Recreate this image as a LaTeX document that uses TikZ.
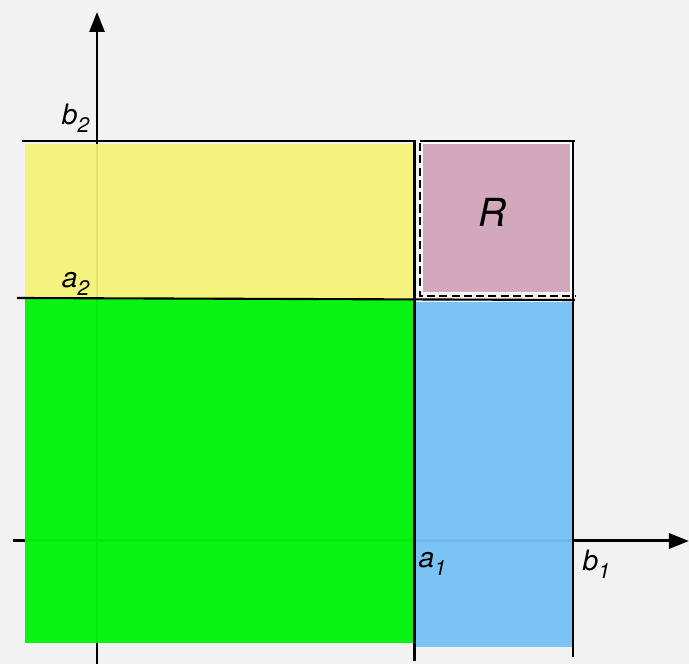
\documentclass[tikz,border=0pt]{standalone}
\usepackage{fontspec}
\setmainfont{TeX Gyre Heros}
\usetikzlibrary{arrows.meta}
\definecolor{bggrey}{RGB}{242,242,242}
\definecolor{rgreen}{RGB}{0,245,10}
\definecolor{ryellow}{RGB}{247,242,117}
\definecolor{rblue}{RGB}{116,193,245}
\definecolor{rpurple}{RGB}{211,168,188}
\newcommand{\sub}[1]{\raisebox{-2.3pt}{\fontsize{6}{7}\selectfont #1}}

\begin{document}
\begin{tikzpicture}[
  axis/.style={line width=0.85pt,-{Triangle[length=2mm,width=1.5mm]}},
  edge/.style={line width=0.6pt},
  lab/.style={font=\fontsize{8}{9}\selectfont\itshape,inner sep=0pt}]
\fill[bggrey] (-0.97,-1.23) rectangle (5.92,5.41);
\useasboundingbox (-0.97,-1.23) rectangle (5.92,5.41);
% axes
\coordinate (xl) at (-0.84,0);
\coordinate (xr) at (5.92,0);
\coordinate (yb) at (0,-1.23);
\coordinate (yt) at (0,5.29);
\draw[axis] (xl) -- (xr);
\draw[axis] (yb) -- (yt);
% regions
\fill[rgreen,opacity=0.96] (-0.72,-1.02) rectangle (3.19,2.42);
\fill[ryellow,opacity=0.92] (-0.72,2.43) rectangle (3.17,3.97);
\fill[rblue,opacity=0.95] (3.18,-1.06) rectangle (4.75,2.39);
\fill[white] (3.245,2.475) rectangle (4.75,3.99);
\fill[rpurple] (3.26,2.49) rectangle (4.73,3.97);
\node[lab,font=\fontsize{11}{12}\selectfont\itshape] (R) at (3.95,3.29) {R};
% bounds
\coordinate (b2l) at (-0.75,4.0);
\coordinate (b2m) at (3.175,4.0);
\coordinate (a1b) at (3.175,-1.20);
\coordinate (b2r) at (3.23,4.0);
\coordinate (b2e) at (4.78,4.0);
\coordinate (b1t) at (4.76,4.0);
\coordinate (b1b) at (4.76,-1.16);
\coordinate (a2l) at (-0.80,2.43);
\coordinate (a2r) at (4.78,2.41);
\draw[edge] (b2l) -- (b2m) -- (a1b);
\draw[edge] (b2r) -- (b2e);
\draw[edge] (b1t) -- (b1b);
\draw[edge] (a2l) -- (a2r);
\draw[line width=0.8pt,dash pattern=on 2.3pt off 1.2pt] (3.23,3.98) -- (3.23,2.45) -- (4.78,2.45);
% labels
\node[lab,anchor=south east] (b2) at (-0.07,4.08) {b\sub{2}};
\node[lab,anchor=south east] (a2) at (-0.07,2.45) {a\sub{2}};
\node[lab,anchor=north west] (a1) at (3.21,-0.11) {a\sub{1}};
\node[lab,anchor=north west] (b1) at (4.85,-0.08) {b\sub{1}};
\end{tikzpicture}
\end{document}
